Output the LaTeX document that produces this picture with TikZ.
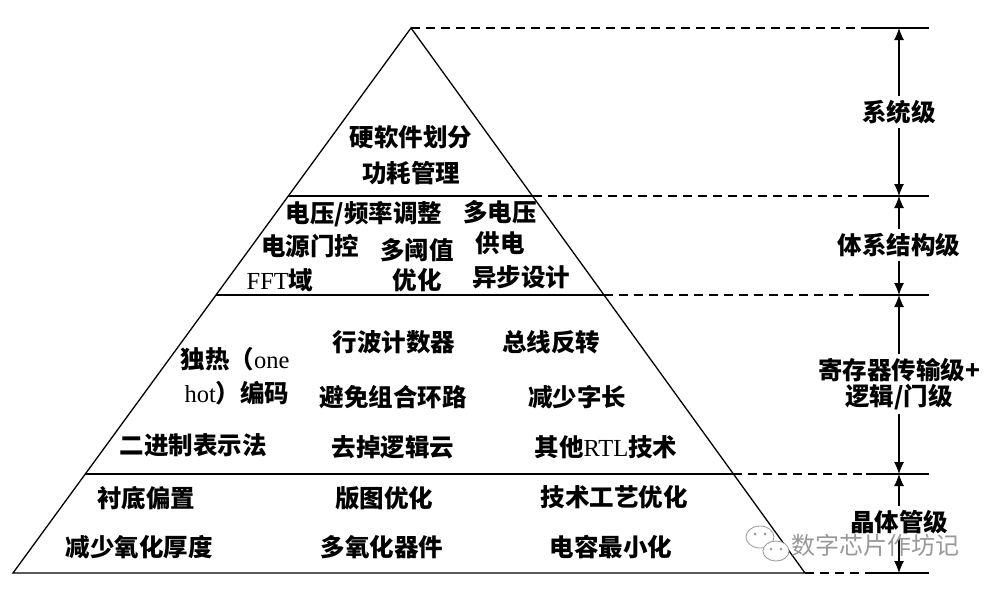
\documentclass[tikz,border=0pt]{standalone}
\usepackage{fontspec}
\setmainfont{Liberation Serif}
\newfontfamily\zh{Noto Sans CJK SC}
\newcommand{\Z}[1]{{\zh\bfseries #1}}
\newcommand{\W}[1]{{\zh #1}}
\usetikzlibrary{arrows.meta}
\begin{document}
\begin{tikzpicture}[x=1pt,y=-1pt,
  tri/.style={line width=1.3pt, line join=miter},
  dashline/.style={line width=1.1pt, dash pattern=on 9pt off 6pt},
  tickline/.style={line width=1.1pt},
  dimarrow/.style={line width=1.1pt, -{Latex[length=12pt,width=10pt]}},
  lbl/.style={font=\fontsize{24.5}{29}\selectfont, inner sep=0pt, align=center},
  side/.style={font=\fontsize{24.5}{29}\selectfont, inner sep=4pt, align=center},
  wm/.style={font=\fontsize{24}{28}\selectfont, text=black!40, inner sep=0pt}]
\useasboundingbox (0,0) rectangle (991,589);
\fill[white] (0,0) rectangle (991,589);
% pyramid
\coordinate (A) at (411,28);
\coordinate (BL) at (13,573);
\coordinate (BR) at (805,573);
\coordinate (L1) at (288,196); \coordinate (R1) at (533,196);
\coordinate (L2) at (216,295); \coordinate (R2) at (604,295);
\coordinate (L3) at (85,474);  \coordinate (R3) at (733,474);
\draw[tri] (A) -- (BL) -- (BR) -- cycle;
\draw[tri] (L1) -- (R1);
\draw[tri] (L2) -- (R2);
\draw[tri] (L3) -- (R3);
% dashed guide lines
\foreach \n/\p/\y in {0/A/28, 1/R1/196, 2/R2/295, 3/R3/474, 4/BR/573} {
  \coordinate (d\n) at (866,\y);
  \coordinate (e\n) at (929,\y);
  \coordinate (t\n) at (899,\y);
  \draw[dashline] (\p) -- (d\n);
  \draw[tickline] (d\n) -- (e\n);
}
% side labels and dimension arrows
\node[side] (s1) at (899,112) {\Z{系统级}};
\node[side] (s2) at (899,245) {\Z{体系结构级}};
\node[side] (s3) at (899,384) {\Z{寄存器传输级+}\\[-3pt]\Z{逻辑/门级}};
\node[side] (s4) at (899,522) {\Z{晶体管级}};
\draw[dimarrow] (s1.north) -- (t0);
\draw[dimarrow] (s1.south) -- (t1);
\draw[dimarrow] (s2.north) -- (t1);
\draw[dimarrow] (s2.south) -- (t2);
\draw[dimarrow] (s3.north) -- (t2);
\draw[dimarrow] (s3.south) -- (t3);
\draw[dimarrow] (s4.north) -- (t3);
\draw[dimarrow] (s4.south) -- (t4);
% system level
\node[lbl] (a1) at (411,137) {\Z{硬软件划分}};
\node[lbl] (a2) at (411,173) {\Z{功耗管理}};
% architecture level
\node[lbl] (b1) at (364,214) {\Z{电压/频率调整}};
\node[lbl] (b2) at (500,212) {\Z{多电压}};
\node[lbl] (b3) at (310,246) {\Z{电源门控}};
\node[lbl] (b4) at (417,250) {\Z{多阈值}};
\node[lbl] (b5) at (500,243) {\Z{供电}};
\node[lbl] (b6) at (280,280) {FFT\Z{域}};
\node[lbl] (b7) at (417,280) {\Z{优化}};
\node[lbl] (b8) at (521,277) {\Z{异步设计}};
% RTL / gate level
\node[lbl] (c1) at (235,359) {\Z{独热（}one};
\node[lbl] (c2) at (237,393) {hot\Z{）编码}};
\node[lbl] (c3) at (394,342) {\Z{行波计数器}};
\node[lbl] (c4) at (393,397) {\Z{避免组合环路}};
\node[lbl] (c5) at (193,445) {\Z{二进制表示法}};
\node[lbl] (c6) at (393,447) {\Z{去掉逻辑云}};
\node[lbl] (c7) at (551,342) {\Z{总线反转}};
\node[lbl] (c8) at (577,397) {\Z{减少字长}};
\node[lbl] (c9) at (606,447) {\Z{其他}RTL\Z{技术}};
% transistor level
\node[lbl] (d1) at (146,498) {\Z{衬底偏置}};
\node[lbl] (d2) at (139,547) {\Z{减少氧化厚度}};
\node[lbl] (d3) at (384,498) {\Z{版图优化}};
\node[lbl] (d4) at (382,547) {\Z{多氧化器件}};
\node[lbl] (d5) at (614,497) {\Z{技术工艺优化}};
\node[lbl] (d6) at (611,547) {\Z{电容最小化}};
% watermark
\draw[black!40, line width=0.8pt] (760,537) ellipse [x radius=14, y radius=11];
\draw[black!40, line width=0.8pt, fill=white] (776,551) ellipse [x radius=13, y radius=10];
\fill[black!40] (755,534) circle (1.5) (765,534) circle (1.5) (771,549) circle (1.3) (781,549) circle (1.3);
\node[wm] (w) at (875,545) {\W{数字芯片作坊记}};
\end{tikzpicture}
\end{document}
